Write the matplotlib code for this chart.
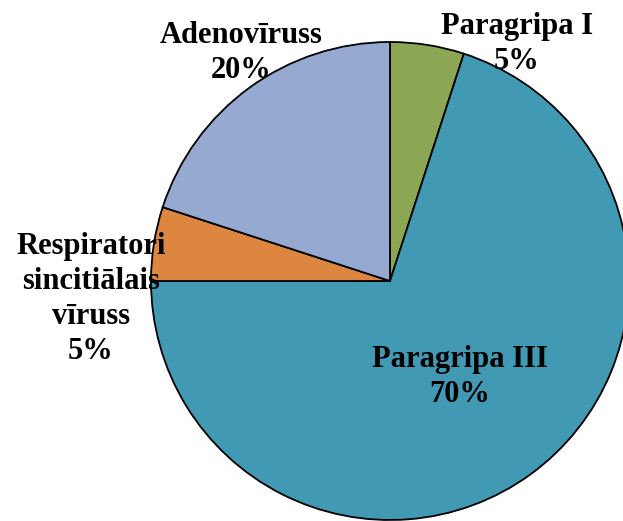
import matplotlib.pyplot as plt

labels = ["Paragripa I", "Paragripa III", "Respiratori\nsincitiālais\nvīruss", "Adenovīruss"]
values = [5, 70, 5, 20]
colors = ["#8ba753", "#4299b3", "#dd8640", "#95a9d1"]

# label centres in pixel coords (x, y from top)
label_pos = [(517, 44), (460, 377), (91, 299), (241, 53)]

W, H = 623, 521
fig = plt.figure(figsize=(W / 100, H / 100), dpi=100)
ax = fig.add_axes([0, 0, 1, 1])

ax.pie(values, colors=colors, startangle=90, counterclock=False,
       center=(390, H - 281), radius=239, frame=True,
       wedgeprops={"edgecolor": "black", "linewidth": 1.3})

ax.set_xlim(0, W)
ax.set_ylim(0, H)
ax.axis("off")

for lab, v, (x, y) in zip(labels, values, label_pos):
    ax.text(x, H - y, f"{lab}\n{v}%", ha="center", va="center",
            fontsize=22, fontweight="bold", family="Liberation Serif",
            linespacing=1.27)

fig.savefig("out.png", dpi=100)
